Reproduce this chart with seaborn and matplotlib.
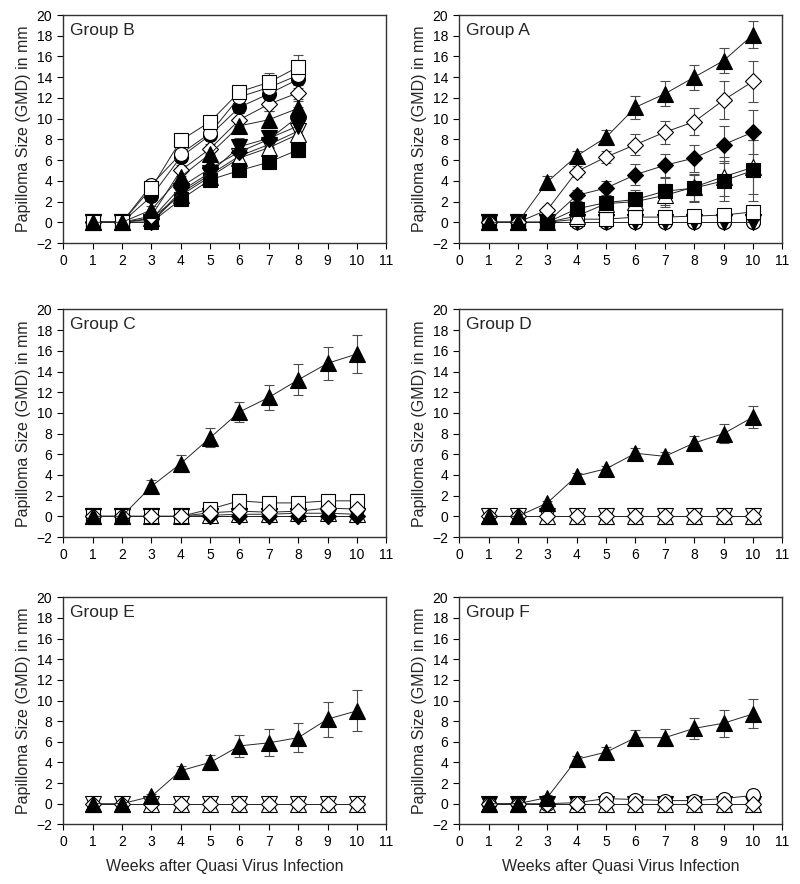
import pandas as pd
import seaborn as sns
import matplotlib
matplotlib.use('Agg')
from matplotlib import pyplot as plt

# weeks after infection
weeks_b = [1, 2, 3, 4, 5, 6, 7, 8]
weeks = [1, 2, 3, 4, 5, 6, 7, 8, 9, 10]

# Group B (8 weeks only)
b_open_tri_down = [0, 0, 0, 2.8, 4.6, 6.4, 7.5, 8.8]
b_open_tri_up = [0, 0, 0.4, 2.6, 4.4, 6.2, 7.2, 8.5]
b_filled_square = [0, 0, 0, 2.2, 4.1, 5.0, 5.8, 7.0]
b_filled_tri_down = [0, 0, 0, 3.0, 4.8, 7.3, 8.1, 9.3]
b_filled_diamond = [0, 0, 0.3, 3.4, 5.2, 6.8, 8.0, 10.2]
b_filled_tri_up = [0, 0, 1.2, 4.4, 6.6, 9.3, 9.9, 11.0]
b_open_diamond = [0, 0, 0.6, 5.0, 7.1, 9.9, 11.4, 12.5]
b_filled_circle = [0, 0, 2.5, 6.3, 8.4, 11.1, 12.4, 13.8]
b_open_circle = [0, 0, 3.6, 6.6, 8.6, 12.1, 13.0, 14.2]
b_open_square = [0, 0, 3.3, 7.9, 9.7, 12.6, 13.5, 15.0]

b_err_open_tri_down = [0, 0, 0, 0.5, 0.5, 0.7, 0.7, 0.8]
b_err_open_tri_up = [0, 0, 0.2, 0.5, 0.5, 0.7, 0.7, 0.8]
b_err_filled_square = [0, 0, 0.2, 0.5, 0.5, 0.5, 0.6, 0.7]
b_err_filled_tri_down = [0, 0, 0.2, 0.5, 0.6, 0.8, 0.8, 0.9]
b_err_filled_diamond = [0, 0, 0.2, 0.6, 0.6, 0.8, 0.8, 0.9]
b_err_filled_tri_up = [0, 0, 0.4, 0.5, 0.6, 0.7, 0.8, 0.9]
b_err_open_diamond = [0, 0, 0.3, 0.5, 0.5, 0.6, 0.7, 0.8]
b_err_filled_circle = [0, 0, 0.3, 0.4, 0.5, 0.6, 0.6, 0.8]
b_err_open_circle = [0, 0, 0.3, 0.4, 0.5, 0.5, 0.8, 1.0]
b_err_open_square = [0, 0, 0.4, 0.3, 0.4, 0.4, 0.9, 1.1]

# Group A
a_zero = [0, 0, 0, 0, 0, 0, 0, 0, 0, 0]
a_open_square = [0, 0, 0, 0.3, 0.3, 0.5, 0.5, 0.6, 0.7, 1.0]
a_open_tri_up = [0, 0, 0, 0.6, 1.8, 2.0, 2.6, 3.4, 4.4, 5.3]
a_filled_square = [0, 0, 0, 1.3, 1.9, 2.2, 3.0, 3.3, 4.0, 5.0]
a_filled_diamond = [0, 0, 0, 2.6, 3.3, 4.6, 5.5, 6.2, 7.5, 8.7]
a_open_diamond = [0, 0, 1.2, 4.9, 6.3, 7.5, 8.7, 9.7, 11.8, 13.6]
a_filled_tri_up = [0, 0, 3.9, 6.4, 8.2, 11.1, 12.4, 14.0, 15.6, 18.1]

a_err_open_square = [0, 0, 0, 0.1, 0.1, 0.2, 0.2, 0.2, 0.3, 0.5]
a_err_open_tri_up = [0, 0, 0, 0.3, 0.5, 0.8, 1.1, 1.3, 1.9, 2.6]
a_err_filled_square = [0, 0, 0, 0.3, 0.6, 0.9, 1.3, 1.3, 1.9, 2.9]
a_err_filled_diamond = [0, 0, 0, 0.5, 0.7, 1.0, 1.1, 1.3, 1.8, 2.1]
a_err_open_diamond = [0, 0, 0.3, 0.5, 0.6, 1.0, 1.1, 1.3, 1.8, 2.0]
a_err_filled_tri_up = [0, 0, 0.6, 0.5, 0.7, 1.1, 1.2, 1.2, 1.2, 1.3]

# Group C
c_zero = [0, 0, 0, 0, 0, 0, 0, 0, 0, 0]
c_open_tri_up = [0, 0, 0, 0, 0.1, 0.2, 0.2, 0.3, 0.3, 0.2]
c_open_square = [0, 0, 0, 0, 0.7, 1.5, 1.3, 1.3, 1.5, 1.5]
c_open_diamond = [0, 0, 0, 0, 0.35, 0.5, 0.4, 0.5, 0.8, 0.7]
c_filled_tri_up = [0, 0, 2.9, 5.1, 7.6, 10.1, 11.5, 13.2, 14.8, 15.7]

c_err_open_square = [0, 0, 0, 0, 0.1, 0.3, 0.3, 0.2, 0.4, 0.6]
c_err_open_diamond = [0, 0, 0, 0, 0.1, 0.2, 0.2, 0.2, 1.2, 0.5]
c_err_filled_tri_up = [0, 0, 0.6, 0.8, 0.9, 1.0, 1.2, 1.5, 1.6, 1.8]

# Group D
d_zero = [0, 0, 0, 0, 0, 0, 0, 0, 0, 0]
d_filled_tri_up = [0, 0, 1.3, 3.9, 4.6, 6.1, 5.8, 7.1, 8.0, 9.6]
d_err_filled_tri_up = [0, 0, 0.2, 0.3, 0.3, 0.5, 0.4, 0.7, 0.9, 1.1]

# Group E
e_zero = [0, 0, 0, 0, 0, 0, 0, 0, 0, 0]
e_filled_tri_up = [0, 0, 0.7, 3.2, 4.0, 5.6, 5.9, 6.4, 8.2, 9.0]
e_err_filled_tri_up = [0, 0, 0.2, 0.5, 0.7, 1.1, 1.3, 1.4, 1.7, 2.0]

# Group F
f_zero = [0, 0, 0, 0, 0, 0, 0, 0, 0, 0]
f_open_circle = [0, 0, 0, 0.1, 0.5, 0.4, 0.3, 0.3, 0.5, 0.8]
f_filled_tri_up = [0, 0, 0.6, 4.3, 5.0, 6.4, 6.4, 7.3, 7.8, 8.7]
f_err_open_circle = [0, 0, 0, 0.1, 0.1, 0.1, 0.1, 0.1, 0.2, 0.3]
f_err_filled_tri_up = [0, 0, 0.2, 0.3, 0.5, 0.7, 0.8, 1.0, 1.3, 1.4]

# marker, face colour, size
marker_styles = {
    'filled_circle': ('o', 'black', 10),
    'open_circle': ('o', 'white', 10),
    'filled_tri_up': ('^', 'black', 11),
    'open_tri_up': ('^', 'white', 11),
    'filled_tri_down': ('v', 'black', 11),
    'open_tri_down': ('v', 'white', 11),
    'filled_square': ('s', 'black', 9.5),
    'open_square': ('s', 'white', 9.5),
    'filled_diamond': ('D', 'black', 8.5),
    'open_diamond': ('D', 'white', 8.5),
}

groups = [
    ('Group B', weeks_b, [
        ('open_tri_down', b_open_tri_down, b_err_open_tri_down),
        ('open_tri_up', b_open_tri_up, b_err_open_tri_up),
        ('filled_square', b_filled_square, b_err_filled_square),
        ('filled_tri_down', b_filled_tri_down, b_err_filled_tri_down),
        ('filled_diamond', b_filled_diamond, b_err_filled_diamond),
        ('open_diamond', b_open_diamond, b_err_open_diamond),
        ('filled_circle', b_filled_circle, b_err_filled_circle),
        ('open_circle', b_open_circle, b_err_open_circle),
        ('open_square', b_open_square, b_err_open_square),
        ('filled_tri_up', b_filled_tri_up, b_err_filled_tri_up),
    ]),
    ('Group A', weeks, [
        ('open_tri_down', a_zero, None),
        ('filled_circle', a_zero, None),
        ('open_circle', a_zero, None),
        ('filled_tri_down', a_zero, None),
        ('open_square', a_open_square, a_err_open_square),
        ('open_tri_up', a_open_tri_up, a_err_open_tri_up),
        ('filled_square', a_filled_square, a_err_filled_square),
        ('filled_diamond', a_filled_diamond, a_err_filled_diamond),
        ('open_diamond', a_open_diamond, a_err_open_diamond),
        ('filled_tri_up', a_filled_tri_up, a_err_filled_tri_up),
    ]),
    ('Group C', weeks, [
        ('open_tri_down', c_zero, None),
        ('open_tri_up', c_open_tri_up, None),
        ('filled_tri_down', c_zero, None),
        ('filled_diamond', c_zero, None),
        ('open_square', c_open_square, c_err_open_square),
        ('open_diamond', c_open_diamond, c_err_open_diamond),
        ('filled_tri_up', c_filled_tri_up, c_err_filled_tri_up),
    ]),
    ('Group D', weeks, [
        ('open_tri_down', d_zero, None),
        ('open_tri_up', d_zero, None),
        ('open_diamond', d_zero, None),
        ('filled_tri_up', d_filled_tri_up, d_err_filled_tri_up),
    ]),
    ('Group E', weeks, [
        ('open_tri_down', e_zero, None),
        ('open_tri_up', e_zero, None),
        ('open_diamond', e_zero, None),
        ('filled_tri_up', e_filled_tri_up, e_err_filled_tri_up),
    ]),
    ('Group F', weeks, [
        ('filled_tri_down', f_zero, None),
        ('open_tri_up', f_zero, None),
        ('open_circle', f_open_circle, f_err_open_circle),
        ('open_diamond', f_zero, None),
        ('filled_tri_up', f_filled_tri_up, f_err_filled_tri_up),
    ]),
]

sns.set_style('ticks')
plt.rcParams['font.family'] = ['Liberation Sans', 'DejaVu Sans']

fig = plt.figure(figsize=(8, 8.84), dpi=100)

col_x = [0.079, 0.574]
row_y = [(0.7251, 0.2579), (0.3925, 0.2574), (0.0675, 0.2568)]

for i, (title, wk, series) in enumerate(groups):
    r, c = divmod(i, 2)
    ax = fig.add_axes([col_x[c], row_y[r][0], 0.404, row_y[r][1]])
    for j, (key, vals, errs) in enumerate(series):
        m, fc, ms = marker_styles[key]
        if errs is not None:
            sub = [(w, v, e) for w, v, e in zip(wk, vals, errs) if e > 0]
            if sub:
                ax.errorbar([s[0] for s in sub], [s[1] for s in sub],
                            yerr=[s[2] for s in sub], fmt='none',
                            ecolor='0.3', elinewidth=0.8, capsize=3.5,
                            capthick=0.8, zorder=1)
        df = pd.DataFrame({'week': wk, 'size': vals})
        sns.lineplot(data=df, x='week', y='size', ax=ax, color='0.15',
                     lw=0.7, marker=m, ms=ms, markerfacecolor=fc,
                     markeredgecolor='black', markeredgewidth=0.8,
                     errorbar=None, zorder=2 + j)
    ax.set_xlim(0, 11)
    ax.set_ylim(-2, 20)
    ax.set_xticks(range(0, 12))
    ax.set_yticks(range(-2, 21, 2))
    ax.tick_params(direction='out', length=4, width=0.8, labelsize=10,
                   pad=4, colors='black')
    for sp in ax.spines.values():
        sp.set_visible(True)
        sp.set_linewidth(1.0)
        sp.set_color('0.2')
    ax.text(0.02, 0.965, title, transform=ax.transAxes, va='top',
            ha='left', fontsize=12.5)
    ax.set_ylabel('Papilloma Size (GMD) in mm', fontsize=11.5, labelpad=4)
    if r == 2:
        ax.set_xlabel('Weeks after Quasi Virus Infection', fontsize=11.5,
                      labelpad=7)
    else:
        ax.set_xlabel('')

fig.savefig('out.png', dpi=100)
